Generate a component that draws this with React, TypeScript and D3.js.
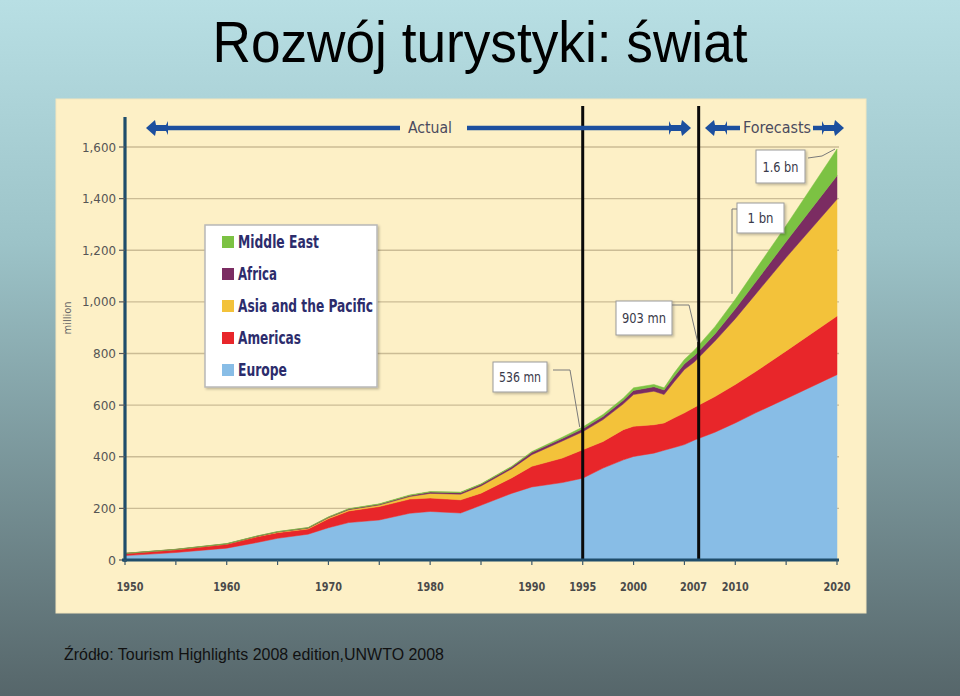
import React from "react";
import * as d3 from "d3";

const years = [1950,1955,1960,1963,1965,1968,1970,1972,1975,1978,1980,1983,1985,1988,1990,1993,1995,1997,1999,2000,2002,2003,2004,2005,2006,2008,2010,2012,2015,2020];
const europe = [17,29,46,68,84,100,125,145,155,181,188,182,212,258,283,300,317,356,388,401,414,425,436,447,465,495,531,570,625,718];
const americas = [8,11,15,22,22,20,35,45,52,55,52,51,47,60,80,95,110,103,117,117,110,106,115,123,127,138,149,160,185,227];
const asiaPacific = [0.2,0.5,1,1.5,2,3,4,5,6,10,18,22,28,35,45,66,70,85,100,123,130,110,140,168,176,215,255,300,362,453];
const africa = [0.5,0.7,1,1.2,1.5,2,2,2.5,3,4,5,6,6,7,9,10,11,12,14,16,17,18,20,22,24,28,38,47,62,91];
const middleEast = [0.2,0.3,0.5,0.6,0.7,0.9,1,1.2,1.5,2,2,2,2,2.5,3,5,7,8,9,10,9,8,14,17,22,28,37,48,62,103];

const seriesKeys = ["Europe", "Americas", "Asia and the Pacific", "Africa", "Middle East"];
const seriesColors = ["#88bde6", "#e8262a", "#f3c23a", "#7b2c62", "#7cc243"];
const legendOrder = ["Middle East", "Africa", "Asia and the Pacific", "Americas", "Europe"];

const yTicks = [0, 200, 400, 600, 800, 1000, 1200, 1400, 1600];
const xMinorTicks = [1950,1955,1960,1965,1970,1975,1980,1985,1990,1995,2000,2005,2010,2015,2020];
const xLabels = ["1950","1960","1970","1980","1990","1995","2000","2007","2010","2020"];
const xLabelYears = [1950,1960,1970,1980,1990,1995,2000,2005.9,2010,2020];
const markerYears = [1995, 2006.4];

const annotationTexts = ["1.6 bn", "1 bn", "903 mn", "536 mn"];

const COND = "'DejaVu Sans Condensed', 'Liberation Sans Narrow', sans-serif";
const ARIAL = "'Liberation Sans', Arial, Helvetica, sans-serif";
const BLUE = "#1c4f9e";

const legendWidths: Record<string, number> = {
  "Middle East": 81,
  "Africa": 39,
  "Asia and the Pacific": 135,
  "Americas": 63,
  "Europe": 49,
};

function ArrowHead({ tip, y, dir }: { tip: number; y: number; dir: number }) {
  const p = (dx: number, dy: number) => `${tip - dir * dx},${y + dy}`;
  const d = `M${p(0, 0)} L${p(9, -8)} L${p(10, -3)} L${p(20, -3)} L${p(22, -7)} L${p(22, 7)} L${p(20, 3)} L${p(10, 3)} L${p(9, 8)} Z`;
  return <path d={d} fill={BLUE} />;
}

export default function App() {
  const W = 960, H = 696;
  const x = d3.scaleLinear().domain([1950, 2020]).range([125, 837]);
  const y = d3.scaleLinear().domain([0, 1600]).range([560, 147]);

  const table = years.map((yr, i) => ({
    year: yr,
    "Europe": europe[i],
    "Americas": americas[i],
    "Asia and the Pacific": asiaPacific[i],
    "Africa": africa[i],
    "Middle East": middleEast[i],
  }));
  const stacked = d3.stack<any>().keys(seriesKeys)(table);
  const area = d3
    .area<any>()
    .x((d) => x(d.data.year))
    .y0((d) => y(d[0]))
    .y1((d) => y(d[1]))
    .curve(d3.curveLinear);

  const totals = table.map((r) => seriesKeys.reduce((s, k) => s + (r as any)[k], 0));
  const totalAt = (yr: number) => totals[years.indexOf(yr)];

  const arrowY = 128;
  const legendX = 205, legendY = 225;

  const a16 = { x: x(2020), y: y(totalAt(2020)) };
  const a1 = { x: 732, y: y(1000) - 8 };
  const a903 = { x: x(2006.4), y: y(totalAt(2006)) };
  const a536 = { x: x(1995) - 3, y: y(totalAt(1995)) };

  return (
    <div style={{ position: "absolute", left: 0, top: 0, width: W, height: H }}>
      <svg width={W} height={H} viewBox={`0 0 ${W} ${H}`} style={{ display: "block" }}>
        <defs>
          <linearGradient id="bg" x1="0" y1="0" x2="0" y2="1">
            <stop offset="0" stopColor="#b8dfe4" />
            <stop offset="0.35" stopColor="#9cc3c8" />
            <stop offset="1" stopColor="#56666a" />
          </linearGradient>
          <filter id="sh" x="-10%" y="-10%" width="130%" height="130%">
            <feDropShadow dx="1.5" dy="1.5" stdDeviation="1" floodColor="#000" floodOpacity="0.25" />
          </filter>
        </defs>
        <rect x={0} y={0} width={W} height={H} fill="url(#bg)" />

        <text x={480} y={62} textAnchor="middle" fontFamily={ARIAL} fontSize={57} fill="#000"
          textLength={535} lengthAdjust="spacingAndGlyphs">Rozwój turystyki: świat</text>

        <rect x={56} y={99} width={810} height={514} fill="#fdf0c6" stroke="#f3e6bd" strokeWidth={1} />

        {yTicks.filter((t) => t > 0).map((t) => (
          <line key={"g" + t} x1={125} x2={839} y1={y(t)} y2={y(t)} stroke="#cbbc95" strokeWidth={1.3} />
        ))}

        {stacked.map((s, i) => (
          <path key={s.key} d={area(s) || ""} fill={seriesColors[i]} stroke={seriesColors[i]} strokeWidth={0.5} />
        ))}

        {markerYears.map((m) => (
          <line key={"m" + m} x1={x(m)} x2={x(m)} y1={106} y2={561} stroke="#0a0a0a" strokeWidth={3} />
        ))}

        <line x1={125} x2={125} y1={117} y2={562} stroke="#1f4d6b" strokeWidth={3.2} />
        {yTicks.map((t) => (
          <g key={"yt" + t}>
            <line x1={119} x2={125} y1={y(t)} y2={y(t)} stroke="#5a5a5a" strokeWidth={1.2} />
            <text x={116} y={y(t) + 4.5} textAnchor="end" fontFamily={COND} fontSize={13} fill="#555"
              textLength={t >= 1000 ? 34 : t === 0 ? 8 : 23} lengthAdjust="spacingAndGlyphs">
              {d3.format(",")(t)}
            </text>
          </g>
        ))}
        <text transform={`translate(71,318) rotate(-90)`} textAnchor="middle" fontFamily={COND} fontSize={11} fill="#666">million</text>

        <line x1={122} x2={839} y1={560} y2={560} stroke="#1f4d6b" strokeWidth={3.2} />
        {xMinorTicks.map((t) => (
          <line key={"xt" + t} x1={x(t)} x2={x(t)} y1={560} y2={565} stroke="#3d5a6b" strokeWidth={1.2} />
        ))}
        {xLabels.map((lab, i) => (
          <text key={"xl" + lab} x={x(xLabelYears[i]) + (i === 0 ? 5 : 0)} y={591} textAnchor="middle" fontFamily={COND}
            fontWeight="bold" fontSize={12.5} fill="#4a4a4a" textLength={27} lengthAdjust="spacingAndGlyphs">{lab}</text>
        ))}

        <g filter="url(#sh)">
          <rect x={legendX} y={legendY} width={172} height={162} fill="#ffffff" stroke="#b8b8b8" strokeWidth={1.5} />
        </g>
        {legendOrder.map((k, i) => {
          const cy = legendY + 17 + i * 32;
          const col = seriesColors[seriesKeys.indexOf(k)];
          return (
            <g key={"lg" + k}>
              <rect x={legendX + 17} y={cy - 6} width={12} height={12} fill={col} />
              <text x={legendX + 33} y={cy + 6} fontFamily={COND} fontWeight="bold" fontSize={17} fill="#2c2c6c"
                textLength={legendWidths[k]} lengthAdjust="spacingAndGlyphs">{k}</text>
            </g>
          );
        })}

        <g fontFamily={COND} fontSize={14} fill="#3a3a4a">
          <g filter="url(#sh)">
            <rect x={756} y={150} width={49} height={33} fill="#fff" stroke="#9a9a9a" strokeWidth={1} />
            <rect x={737} y={203} width={47} height={30} fill="#fff" stroke="#9a9a9a" strokeWidth={1} />
            <rect x={616} y={301} width={56} height={34} fill="#fff" stroke="#9a9a9a" strokeWidth={1} />
            <rect x={493} y={362} width={54} height={30} fill="#fff" stroke="#9a9a9a" strokeWidth={1} />
          </g>
          <text x={780.5} y={172} textAnchor="middle" textLength={36} lengthAdjust="spacingAndGlyphs">{annotationTexts[0]}</text>
          <text x={760.5} y={223} textAnchor="middle" textLength={26} lengthAdjust="spacingAndGlyphs">{annotationTexts[1]}</text>
          <text x={644} y={323} textAnchor="middle" textLength={44} lengthAdjust="spacingAndGlyphs">{annotationTexts[2]}</text>
          <text x={520} y={382} textAnchor="middle" textLength={42} lengthAdjust="spacingAndGlyphs">{annotationTexts[3]}</text>
        </g>
        <g fill="none" stroke="#7a7a7a" strokeWidth={1}>
          <polyline points={`808,158 822,156 ${a16.x - 2},${a16.y}`} />
          <polyline points={`737,209 732,209 ${a1.x},${a1.y}`} />
          <polyline points={`672,305 689,305 ${a903.x - 1},${a903.y - 8}`} />
          <polyline points={`553,370 570,370 ${a536.x},${a536.y}`} />
        </g>

        <line x1={160} x2={400} y1={arrowY} y2={arrowY} stroke={BLUE} strokeWidth={4.5} />
        <ArrowHead tip={146} y={arrowY} dir={-1} />
        <text x={430} y={arrowY + 5} textAnchor="middle" fontFamily={COND} fontSize={16} fill="#4b4b5e"
          textLength={44} lengthAdjust="spacingAndGlyphs">Actual</text>
        <line x1={467} x2={676} y1={arrowY} y2={arrowY} stroke={BLUE} strokeWidth={4.5} />
        <ArrowHead tip={691} y={arrowY} dir={1} />
        <ArrowHead tip={705} y={arrowY} dir={-1} />
        <line x1={720} x2={740} y1={arrowY} y2={arrowY} stroke={BLUE} strokeWidth={4.5} />
        <text x={777} y={arrowY + 5} textAnchor="middle" fontFamily={COND} fontSize={16} fill="#4b4b5e"
          textLength={68} lengthAdjust="spacingAndGlyphs">Forecasts</text>
        <line x1={813} x2={830} y1={arrowY} y2={arrowY} stroke={BLUE} strokeWidth={4.5} />
        <ArrowHead tip={844} y={arrowY} dir={1} />

        <text x={64} y={660} fontFamily={ARIAL} fontSize={17} fill="#111" textLength={380} lengthAdjust="spacingAndGlyphs">
          Źródło: Tourism Highlights 2008 edition,UNWTO 2008
        </text>
      </svg>
    </div>
  );
}
